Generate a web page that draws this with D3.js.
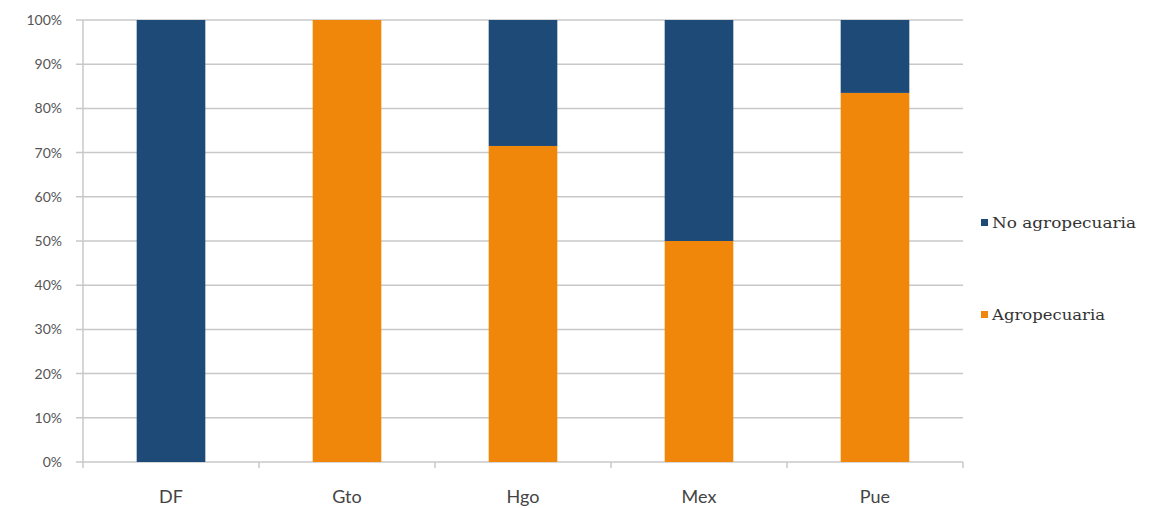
<!DOCTYPE html>
<html><head><meta charset="utf-8">
<script src="https://cdn.jsdelivr.net/npm/d3@7"></script>
<style>body{margin:0;background:#fff;}</style>
</head><body>
<svg id="c" width="1167" height="508"></svg>
<script>
const categories = ["DF","Gto","Hgo","Mex","Pue"];
const agropecuaria = [0, 100, 71.5, 50, 83.5];
const noAgropecuaria = [100, 0, 28.5, 50, 16.5];
const seriesNames = ["Agropecuaria","No agropecuaria"];
const yTicks = [0,10,20,30,40,50,60,70,80,90,100];
const colors = {"Agropecuaria":"#f0870a","No agropecuaria":"#1e4a78"};

const svg = d3.select("#c");
const m = {l:83, r:1167-963, t:20, b:508-462};
const W = 1167, H = 508;
const x = d3.scaleBand().domain(categories).range([m.l, W-m.r]).paddingInner(0.61).paddingOuter(0.305);
const y = d3.scaleLinear().domain([0,100]).range([H-m.b, m.t]);

// gridlines
svg.append("g").selectAll("line").data(yTicks).join("line")
  .attr("x1", m.l-7).attr("x2", W-m.r)
  .attr("y1", d=>y(d)).attr("y2", d=>y(d))
  .attr("stroke","#c8c8c8").attr("stroke-width",1.5);
// y axis line
svg.append("line").attr("x1",m.l).attr("x2",m.l).attr("y1",y(100)).attr("y2",y(0))
  .attr("stroke","#c8c8c8").attr("stroke-width",1.5);

// y labels
svg.append("g").selectAll("text").data(yTicks).join("text")
  .attr("x", 62).attr("y", d=>y(d)+5).attr("text-anchor","end")
  .attr("font-family","Lato, 'Open Sans', sans-serif").attr("font-size",14).attr("fill","#555")
  .text(d=>d+"%");

// x category boundary ticks
const bounds = [0,1,2,3,4,5].map(i=>m.l + i*(W-m.l-m.r)/5);
svg.append("g").selectAll("line").data(bounds).join("line")
  .attr("x1",d=>d).attr("x2",d=>d).attr("y1",y(0)).attr("y2",y(0)+6)
  .attr("stroke","#c8c8c8").attr("stroke-width",1.5);

// stacked bars
const data = categories.map((c,i)=>({cat:c,"Agropecuaria":agropecuaria[i],"No agropecuaria":noAgropecuaria[i]}));
const stack = d3.stack().keys(seriesNames)(data);
svg.append("g").selectAll("g").data(stack).join("g")
  .attr("fill", d=>colors[d.key])
  .selectAll("rect").data(d=>d).join("rect")
  .attr("x", d=>x(d.data.cat)).attr("width", x.bandwidth())
  .attr("y", d=>y(d[1])).attr("height", d=>y(d[0])-y(d[1]));

// x labels
svg.append("g").selectAll("text").data(categories).join("text")
  .attr("x", d=>x(d)+x.bandwidth()/2).attr("y", 503).attr("text-anchor","middle")
  .attr("font-family","Lato, 'Open Sans', sans-serif").attr("font-size",18).attr("fill","#444")
  .text(d=>d);

// legend
const legendItems = [{k:"No agropecuaria",y:224},{k:"Agropecuaria",y:316}];
const lg = svg.append("g").selectAll("g").data(legendItems).join("g");
lg.append("rect").attr("x",981).attr("y",d=>d.y-5).attr("width",7).attr("height",7).attr("fill",d=>colors[d.k]);
lg.append("text").attr("x",992).attr("y",d=>d.y+4).attr("font-family","'DejaVu Serif', serif").attr("font-size",14).attr("fill","#333")
  .attr("textLength", d=>d.k==="No agropecuaria"?144:113).attr("lengthAdjust","spacingAndGlyphs")
  .text(d=>d.k);
</script>
</body></html>
